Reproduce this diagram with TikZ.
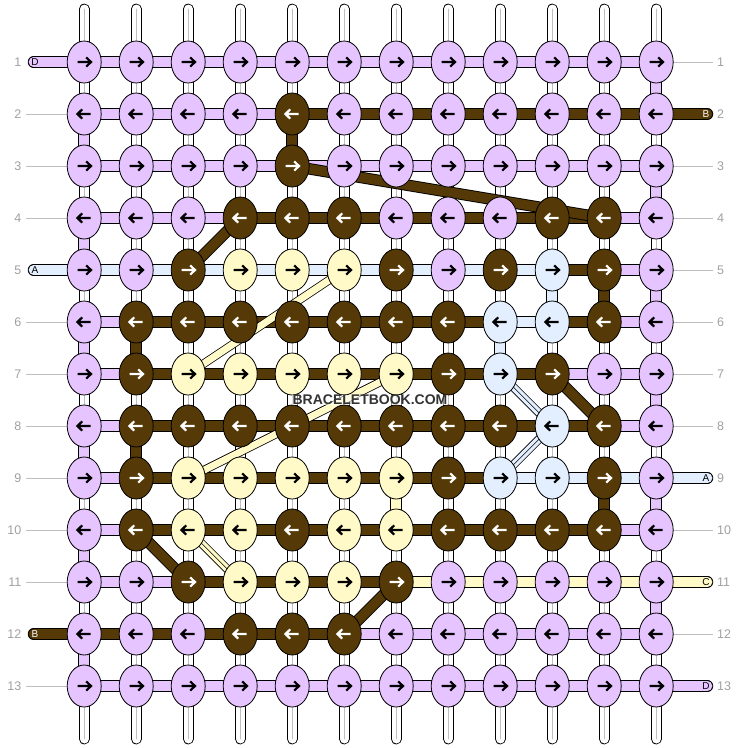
\documentclass[tikz,border=0pt]{standalone}
\usepackage{fontspec}
\setmainfont{Liberation Sans}
\usetikzlibrary{shapes.geometric}

\definecolor{knL}{RGB}{230,196,255}
\definecolor{knB}{RGB}{85,57,6}
\definecolor{knY}{RGB}{255,250,200}
\definecolor{knA}{RGB}{227,239,255}
\colorlet{arL}{black}
\colorlet{arB}{white}
\colorlet{arY}{black}
\colorlet{arA}{black}
\definecolor{numgray}{RGB}{160,160,160}

\tikzset{
  band/.style={line width=11.5pt, black, postaction={draw=#1, line width=9.7pt}},
  thinband/.style={line width=8.5pt, black, postaction={draw=#1, line width=6.9pt}},
  twinband/.style={thinband=#1, postaction={draw=black, line width=0.6pt}},
  warp/.style={line width=10.7pt, black, line cap=round,
    postaction={draw=white, line width=9pt},
    postaction={draw=black!25, line width=0.8pt}},
  knot/.style={ellipse, draw=black, line width=0.8pt, fill=#1,
    minimum width=34pt, minimum height=42pt, inner sep=0pt},
  rownum/.style={text=numgray, font=\fontsize{12.5}{14}\selectfont, inner sep=0pt},
  endtag/.style={font=\fontsize{10}{12}\selectfont, inner sep=0pt},
  tick/.style={draw=black!25, line width=1pt},
}

\begin{document}
\begin{tikzpicture}[x=1pt,y=-1pt]
        \useasboundingbox (0,0) rectangle (740,748);

        % Knot grid
        \foreach \r in {1,...,13}
          \foreach \c in {1,...,12}
            \coordinate (p-\r-\c) at ({84.2+52*(\c-1)},{62+52*(\r-1)});

        % Warp strings
        \foreach \c in {1,...,12} {
          \coordinate (top-\c) at ({84.2+52*(\c-1)},9);
          \coordinate (bot-\c) at ({84.2+52*(\c-1)},739);
          \draw[warp] (top-\c) -- (bot-\c);
        }

        % Row ticks and numbers
        \foreach \r in {2,3,4,6,7,8,9,10,11,13} {
          \coordinate (lt-\r) at (26,{62+52*(\r-1)});
          \draw[tick] (lt-\r) -- (p-\r-1);
        }
        \foreach \r in {1,3,4,5,6,7,8,10,12} {
          \coordinate (rt-\r) at (713,{62+52*(\r-1)});
          \draw[tick] (p-\r-12) -- (rt-\r);
        }
        \foreach \r in {1,...,13} {
          \node[rownum,anchor=east] (ln-\r) at (21.5,{62+52*(\r-1)}) {\r};
          \node[rownum,anchor=west] (rn-\r) at (717,{62+52*(\r-1)}) {\r};
        }

        % Loose ends
        \foreach \r/\k/\t in {1/L/D,5/A/A,12/B/B} {
          \coordinate (le-\r) at (33.5,{62+52*(\r-1)});
          \draw[band=kn\k,line cap=round] (le-\r) -- (p-\r-1);
          \node[endtag,text=ar\k] (tl-\r) at (35,{62+52*(\r-1)}) {\t};
        }
        \foreach \r/\k/\t in {2/B/B,9/A/A,11/Y/C,13/L/D} {
          \coordinate (re-\r) at (707.5,{62+52*(\r-1)});
          \draw[band=kn\k,line cap=round] (p-\r-12) -- (re-\r);
          \node[endtag,text=ar\k] (tr-\r) at (706,{62+52*(\r-1)}) {\t};
        }

        % Vertical turns
        \foreach \r/\c/\k in {2/1/L,4/1/L,6/1/L,8/1/L,10/1/L,12/1/L,
                              1/12/L,3/12/L,5/12/L,7/12/L,9/12/L,11/12/L,
                              2/5/B,6/2/B,8/2/B,5/11/B,9/11/B,
                              5/10/A,6/9/A,9/7/Y} {
          \pgfmathtruncatemacro\n{\r+1}
          \draw[band=kn\k] (p-\r-\c) -- (p-\n-\c);
        }

        % Row strings
        \foreach \r/\row in {
          1/{L,L,L,L,L,L,L,L,L,L,L},
          2/{L,L,L,L,B,B,B,B,B,B,B},
          3/{L,L,L,L,L,L,L,L,L,L,L},
          4/{L,L,L,B,B,B,B,B,B,B,L},
          5/{A,A,A,A,A,A,A,A,A,B,L},
          6/{L,B,B,B,B,B,B,B,A,B,L},
          7/{L,B,B,B,B,B,B,B,B,L,L},
          8/{L,B,B,B,B,B,B,B,B,B,L},
          9/{L,B,B,B,B,B,B,B,A,A,A},
          10/{L,B,B,B,B,B,B,B,B,B,L},
          11/{L,L,B,B,B,B,Y,Y,Y,Y,Y},
          12/{B,B,B,B,B,L,L,L,L,L,L},
          13/{L,L,L,L,L,L,L,L,L,L,L}}
          \foreach \k [count=\c] in \row {
            \pgfmathtruncatemacro\n{\c+1}
            \draw[band=kn\k] (p-\r-\c) -- (p-\r-\n);
          }

        % Diagonal runs
        \foreach \a/\b in {3-5/4-11,5-3/4-4,10-2/11-3,11-7/12-6,7-10/8-11}
          \draw[band=knB] (p-\a) -- (p-\b);
        \draw[thinband=knY] (p-7-3) -- (p-5-6);
        \draw[thinband=knY] (p-9-3) -- (p-7-7);
        \draw[twinband=knY] (p-10-3) -- (p-11-4);
        \draw[twinband=knA] (p-7-9) -- (p-8-10);
        \draw[twinband=knA] (p-8-10) -- (p-9-9);

        % Knots
        \foreach \r/\row in {
          1/{L,L,L,L,L,L,L,L,L,L,L,L},
          2/{L,L,L,L,B,L,L,L,L,L,L,L},
          3/{L,L,L,L,B,L,L,L,L,L,L,L},
          4/{L,L,L,B,B,B,L,L,L,B,B,L},
          5/{L,L,B,Y,Y,Y,B,L,B,A,B,L},
          6/{L,B,B,B,B,B,B,B,A,A,B,L},
          7/{L,B,Y,Y,Y,Y,Y,B,A,B,L,L},
          8/{L,B,B,B,B,B,B,B,B,A,B,L},
          9/{L,B,Y,Y,Y,Y,Y,B,A,A,B,L},
          10/{L,B,Y,Y,B,Y,Y,B,B,B,B,L},
          11/{L,L,B,Y,Y,Y,B,L,L,L,L,L},
          12/{L,L,L,B,B,B,L,L,L,L,L,L},
          13/{L,L,L,L,L,L,L,L,L,L,L,L}}
          \foreach \k [count=\c] in \row {
            \pgfmathsetmacro\s{ifthenelse(mod(\r,2)==1,1,-1)}
            \node[knot=kn\k] (k-\r-\c) at (p-\r-\c) {};
            \draw[ar\k,line width=2.2pt,shift={(p-\r-\c)},xscale=\s]
              (-6.5,0) -- (6.3,0) (2,-4.6) -- (6.8,0) -- (2,4.6);
          }

        % Watermark
        \node[font=\bfseries\fontsize{14}{16}\selectfont,text=black!80,fill=white,
              fill opacity=0.55,text opacity=1,inner sep=0.5pt] (mark) at (370,400) {BRACELETBOOK.COM};
\end{tikzpicture}
\end{document}
